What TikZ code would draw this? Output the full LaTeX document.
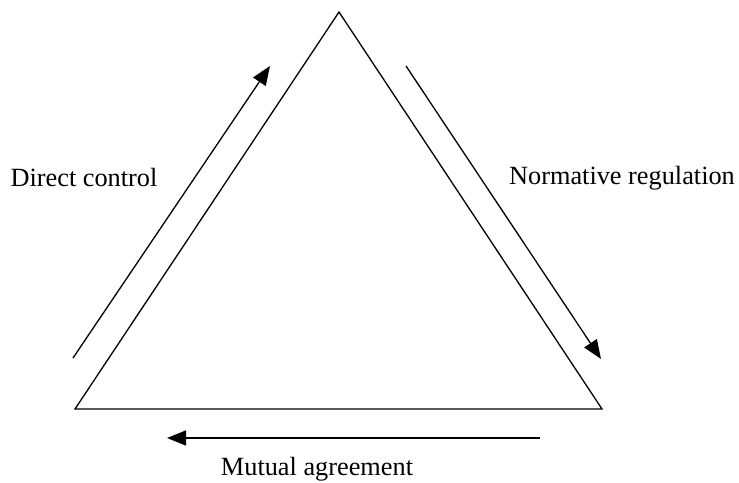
\documentclass[tikz,border=0pt]{standalone}
\usepackage{fontspec}
\setmainfont{Liberation Serif}
\usetikzlibrary{arrows.meta}
\tikzset{
  edge/.style={line width=1.3pt},
  flow/.style={line width=1.3pt,-{Triangle[length=19pt,width=15pt]}},
  lbl/.style={font=\fontsize{26.3}{30}\selectfont,inner sep=0pt}
}
\begin{document}
\begin{tikzpicture}[x=1pt,y=-1pt]
\useasboundingbox (0,0) rectangle (739,482);
% triangle corners
\coordinate (top) at (339,12);
\coordinate (bl) at (75,409);
\coordinate (br) at (602,409);
\draw[edge,line join=miter] (top) -- (br) -- (bl) -- cycle;
% arrow end points
\coordinate (a1) at (73,358);
\coordinate (a2) at (270,66);
\coordinate (b1) at (406,66);
\coordinate (b2) at (601,359);
\coordinate (c1) at (540,438);
\coordinate (c2) at (167,438);
\draw[flow] (a1) -- (a2);
\draw[flow] (b1) -- (b2);
\draw[flow] (c1) -- (c2);
% labels
\node[lbl] (dc) at (84,178) {Direct control};
\node[lbl] (nr) at (622,178) {Normative regulation};
\node[lbl] (ma) at (317,469) {Mutual agreement};
\end{tikzpicture}
\end{document}
